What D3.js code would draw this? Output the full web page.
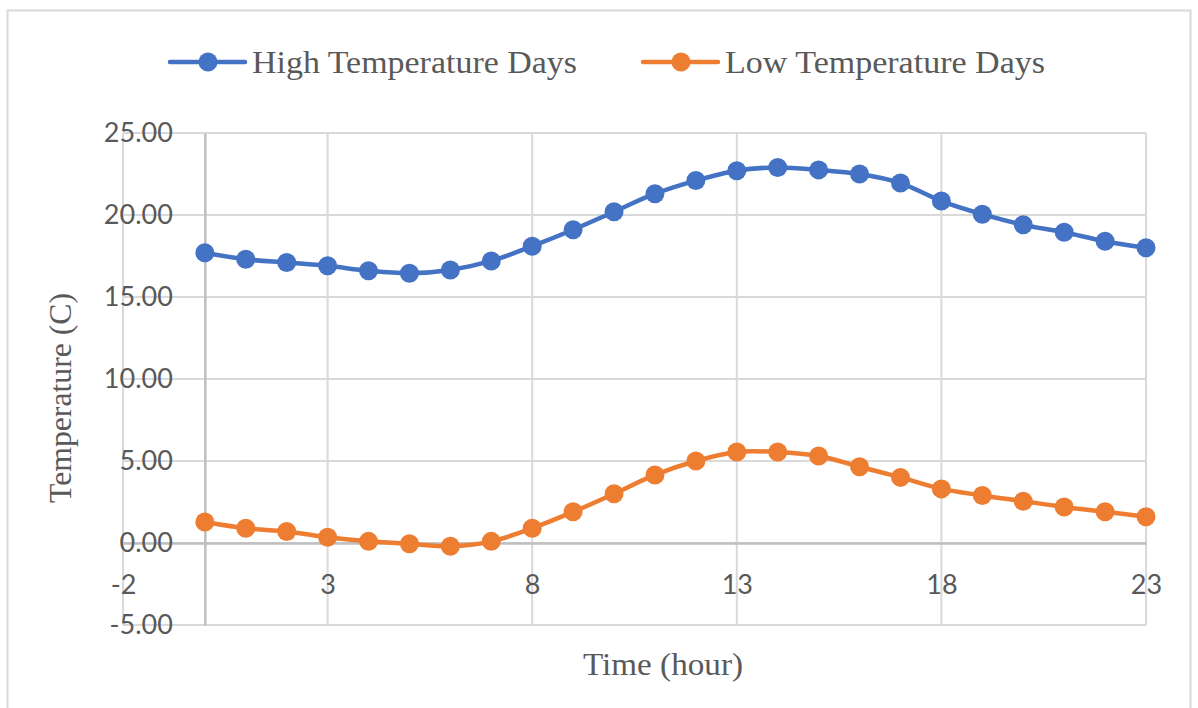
<!DOCTYPE html>
<html>
<head>
<meta charset="utf-8">
<script src="https://cdn.jsdelivr.net/npm/d3@7"></script>
<style>
  body { margin: 0; background: #fff; }
  svg { display: block; }
</style>
</head>
<body>
<svg id="chart" width="1198" height="708"></svg>
<script>
// hours 0..23
var hours = [0,1,2,3,4,5,6,7,8,9,10,11,12,13,14,15,16,17,18,19,20,21,22,23];
var highTemps = [17.7,17.3,17.1,16.9,16.6,16.45,16.65,17.2,18.1,19.1,20.2,21.3,22.1,22.7,22.9,22.75,22.5,21.95,20.85,20.05,19.4,18.95,18.4,18.0];
var lowTemps = [1.28,0.9,0.7,0.35,0.1,-0.05,-0.2,0.1,0.9,1.9,3.0,4.15,5.0,5.55,5.55,5.3,4.65,4.0,3.3,2.9,2.55,2.2,1.9,1.6];
var seriesNames = ["High Temperature Days", "Low Temperature Days"];
var seriesColors = ["#4472C4", "#ED7D31"];
var xTicks = [-2, 3, 8, 13, 18, 23];
var yTicks = [-5, 0, 5, 10, 15, 20, 25];

var svg = d3.select("#chart");
var tickFont = "Lato, 'Open Sans', sans-serif";
var serifFont = "'Liberation Serif', 'Times New Roman', serif";
var textColor = "#595959";

// outer chart border
svg.append("rect")
	.attr("x", 7.5).attr("y", 10.5)
	.attr("width", 1183).attr("height", 700)
	.attr("fill", "none")
	.attr("stroke", "#D9D9D9")
	.attr("stroke-width", 2);

var x = d3.scaleLinear().domain([-2, 23]).range([123, 1146]);
var y = d3.scaleLinear().domain([-5, 25]).range([625, 133]);

// gridlines
var grid = svg.append("g");
grid.selectAll("line.h")
	.data(yTicks)
	.enter().append("line")
	.attr("x1", x(-2)).attr("x2", x(23))
	.attr("y1", function(d) { return y(d); })
	.attr("y2", function(d) { return y(d); })
	.attr("stroke", "#D9D9D9")
	.attr("stroke-width", 2);
grid.selectAll("line.v")
	.data(xTicks)
	.enter().append("line")
	.attr("y1", y(-5)).attr("y2", y(25))
	.attr("x1", function(d) { return x(d); })
	.attr("x2", function(d) { return x(d); })
	.attr("stroke", "#D9D9D9")
	.attr("stroke-width", 2);

// axes cross at 0
var xAxis = svg.append("g")
	.attr("transform", "translate(0," + y(0) + ")")
	.call(d3.axisBottom(x).tickValues(xTicks).tickSize(0).tickPadding(32)
		.tickFormat(function(d) { return String(d).replace("\u2212", "-"); }));
xAxis.select(".domain").attr("stroke", "#BFBFBF").attr("stroke-width", 2.5);
xAxis.selectAll("text")
	.attr("font-family", tickFont).attr("font-size", 27).attr("fill", textColor);

var yAxis = svg.append("g")
	.attr("transform", "translate(" + x(0) + ",0)")
	.call(d3.axisLeft(y).tickValues(yTicks).tickSize(0).tickPadding(32)
		.tickFormat(function(d) { return d.toFixed(2); }));
yAxis.select(".domain").attr("stroke", "#BFBFBF").attr("stroke-width", 2.5);
yAxis.selectAll("text")
	.attr("font-family", tickFont).attr("font-size", 27).attr("fill", textColor);

// series
var allSeries = [highTemps, lowTemps];
var line = d3.line()
	.x(function(d, i) { return x(hours[i]); })
	.y(function(d) { return y(d); })
	.curve(d3.curveCatmullRom.alpha(0.5));

allSeries.forEach(function(vals, k) {
	svg.append("path")
		.attr("d", line(vals))
		.attr("fill", "none")
		.attr("stroke", seriesColors[k])
		.attr("stroke-width", 4.5)
		.attr("stroke-linejoin", "round");
	svg.selectAll("circle.s" + k)
		.data(vals)
		.enter().append("circle")
		.attr("cx", function(d, i) { return x(hours[i]); })
		.attr("cy", function(d) { return y(d); })
		.attr("r", 9.5)
		.attr("fill", seriesColors[k]);
});

// legend (text is drawn a bit wide, like the original)
var legendX = [170, 643];
var legendLen = [325, 320];
seriesNames.forEach(function(name, k) {
	var g = svg.append("g").attr("transform", "translate(" + legendX[k] + ",62)");
	g.append("line").attr("x1", 0).attr("x2", 75).attr("y1", 0).attr("y2", 0)
		.attr("stroke", seriesColors[k]).attr("stroke-width", 4.5).attr("stroke-linecap", "round");
	g.append("circle").attr("cx", 38).attr("cy", 0).attr("r", 9.5).attr("fill", seriesColors[k]);
	g.append("text").attr("x", 82).attr("y", 11)
		.attr("font-family", serifFont).attr("font-size", 31).attr("fill", textColor)
		.attr("textLength", legendLen[k]).attr("lengthAdjust", "spacingAndGlyphs")
		.text(name);
});

// axis titles
svg.append("text")
	.attr("x", 663).attr("y", 675)
	.attr("text-anchor", "middle")
	.attr("font-family", serifFont).attr("font-size", 31).attr("fill", textColor)
	.attr("textLength", 160).attr("lengthAdjust", "spacingAndGlyphs")
	.text("Time (hour)");
svg.append("text")
	.attr("transform", "translate(71,398) rotate(-90)")
	.attr("text-anchor", "middle")
	.attr("font-family", serifFont).attr("font-size", 31).attr("fill", textColor)
	.attr("textLength", 210).attr("lengthAdjust", "spacingAndGlyphs")
	.text("Temperature (C)");
</script>
</body>
</html>
